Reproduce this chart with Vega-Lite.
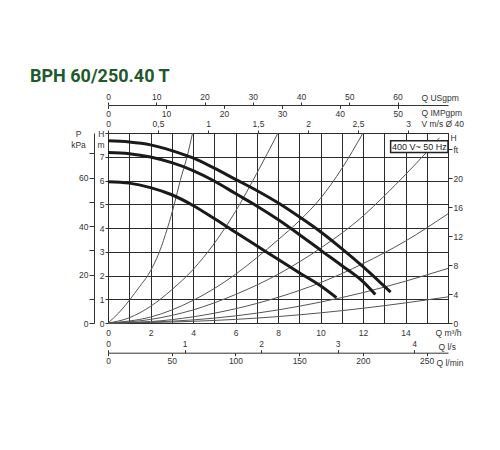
{
  "$schema": "https://vega.github.io/schema/vega-lite/v6.json",
  "width": 340,
  "height": 190,
  "autosize": "none",
  "padding": {"left": 108, "top": 133, "right": 52, "bottom": 127},
  "background": "white",
  "title": {
    "text": "BPH 60/250.40 T",
    "anchor": "start",
    "frame": "group",
    "dx": -78,
    "offset": 6,
    "font": "Roboto",
    "fontSize": 18,
    "fontWeight": "bold",
    "color": "#1e5a2b"
  },
  "config": {
    "font": "Liberation Sans",
    "view": {"stroke": "#2b2b2b", "strokeWidth": 1},
    "axis": {
      "labelFont": "Liberation Sans",
      "labelFontSize": 8.5,
      "labelColor": "#333",
      "titleFont": "Liberation Sans",
      "titleFontSize": 8.5,
      "titleFontWeight": "normal",
      "titleColor": "#333",
      "titleAngle": 0,
      "tickColor": "#333",
      "domainColor": "#333",
      "labelFlush": false,
      "labelOverlap": false,
      "labelBound": false,
      "grid": false
    }
  },
  "data": {"values": [{}]},
  "datasets": {
    "curves": [
      {"curve": "c1", "kind": "system", "q": 0, "h": 0},
      {"curve": "c1", "kind": "system", "q": 0.5, "h": 0.42},
      {"curve": "c1", "kind": "system", "q": 1, "h": 0.95},
      {"curve": "c1", "kind": "system", "q": 1.5, "h": 1.55},
      {"curve": "c1", "kind": "system", "q": 1.87, "h": 2},
      {"curve": "c1", "kind": "system", "q": 2.42, "h": 3},
      {"curve": "c1", "kind": "system", "q": 2.8, "h": 4},
      {"curve": "c1", "kind": "system", "q": 3.12, "h": 5},
      {"curve": "c1", "kind": "system", "q": 3.4, "h": 6},
      {"curve": "c1", "kind": "system", "q": 3.72, "h": 7},
      {"curve": "c1", "kind": "system", "q": 3.98, "h": 8},
      {"curve": "c2", "kind": "system", "q": 0, "h": 0},
      {"curve": "c2", "kind": "system", "q": 1, "h": 0.22},
      {"curve": "c2", "kind": "system", "q": 2, "h": 0.7},
      {"curve": "c2", "kind": "system", "q": 3, "h": 1.4},
      {"curve": "c2", "kind": "system", "q": 4, "h": 2.25},
      {"curve": "c2", "kind": "system", "q": 5, "h": 3.35},
      {"curve": "c2", "kind": "system", "q": 6, "h": 4.7},
      {"curve": "c2", "kind": "system", "q": 7, "h": 6.3},
      {"curve": "c2", "kind": "system", "q": 8, "h": 8},
      {"curve": "c3", "kind": "system", "q": 0, "h": 0},
      {"curve": "c3", "kind": "system", "q": 2, "h": 0.25},
      {"curve": "c3", "kind": "system", "q": 4, "h": 0.95},
      {"curve": "c3", "kind": "system", "q": 6, "h": 2.05},
      {"curve": "c3", "kind": "system", "q": 7, "h": 2.75},
      {"curve": "c3", "kind": "system", "q": 8, "h": 3.5},
      {"curve": "c3", "kind": "system", "q": 9, "h": 4.3},
      {"curve": "c3", "kind": "system", "q": 10, "h": 5.25},
      {"curve": "c3", "kind": "system", "q": 11, "h": 6.5},
      {"curve": "c3", "kind": "system", "q": 12, "h": 8},
      {"curve": "c4", "kind": "system", "q": 0, "h": 0},
      {"curve": "c4", "kind": "system", "q": 2, "h": 0.15},
      {"curve": "c4", "kind": "system", "q": 4, "h": 0.55},
      {"curve": "c4", "kind": "system", "q": 6, "h": 1.2},
      {"curve": "c4", "kind": "system", "q": 8, "h": 2.05},
      {"curve": "c4", "kind": "system", "q": 10, "h": 3.15},
      {"curve": "c4", "kind": "system", "q": 12, "h": 4.5},
      {"curve": "c4", "kind": "system", "q": 13, "h": 5.35},
      {"curve": "c4", "kind": "system", "q": 14, "h": 6.25},
      {"curve": "c4", "kind": "system", "q": 15, "h": 7.2},
      {"curve": "c4", "kind": "system", "q": 15.6, "h": 7.8},
      {"curve": "c5", "kind": "system", "q": 0, "h": 0},
      {"curve": "c5", "kind": "system", "q": 2, "h": 0.06},
      {"curve": "c5", "kind": "system", "q": 4, "h": 0.26},
      {"curve": "c5", "kind": "system", "q": 6, "h": 0.6},
      {"curve": "c5", "kind": "system", "q": 8, "h": 1.08},
      {"curve": "c5", "kind": "system", "q": 10, "h": 1.7},
      {"curve": "c5", "kind": "system", "q": 12, "h": 2.5},
      {"curve": "c5", "kind": "system", "q": 14, "h": 3.45},
      {"curve": "c5", "kind": "system", "q": 16, "h": 4.6},
      {"curve": "c6", "kind": "system", "q": 0, "h": 0},
      {"curve": "c6", "kind": "system", "q": 4, "h": 0.13},
      {"curve": "c6", "kind": "system", "q": 6, "h": 0.3},
      {"curve": "c6", "kind": "system", "q": 8, "h": 0.55},
      {"curve": "c6", "kind": "system", "q": 10, "h": 0.88},
      {"curve": "c6", "kind": "system", "q": 12, "h": 1.28},
      {"curve": "c6", "kind": "system", "q": 14, "h": 1.76},
      {"curve": "c6", "kind": "system", "q": 16, "h": 2.3},
      {"curve": "c7", "kind": "system", "q": 0, "h": 0},
      {"curve": "c7", "kind": "system", "q": 4, "h": 0.07},
      {"curve": "c7", "kind": "system", "q": 8, "h": 0.27},
      {"curve": "c7", "kind": "system", "q": 12, "h": 0.62},
      {"curve": "c7", "kind": "system", "q": 16, "h": 1.1},
      {"curve": "P1", "kind": "pump", "q": 0, "h": 7.67},
      {"curve": "P1", "kind": "pump", "q": 1, "h": 7.62},
      {"curve": "P1", "kind": "pump", "q": 2, "h": 7.5},
      {"curve": "P1", "kind": "pump", "q": 3, "h": 7.26},
      {"curve": "P1", "kind": "pump", "q": 4, "h": 6.95},
      {"curve": "P1", "kind": "pump", "q": 5, "h": 6.52},
      {"curve": "P1", "kind": "pump", "q": 6, "h": 6.05},
      {"curve": "P1", "kind": "pump", "q": 7, "h": 5.58},
      {"curve": "P1", "kind": "pump", "q": 8, "h": 5.06},
      {"curve": "P1", "kind": "pump", "q": 9, "h": 4.47},
      {"curve": "P1", "kind": "pump", "q": 10, "h": 3.84},
      {"curve": "P1", "kind": "pump", "q": 11, "h": 3.13},
      {"curve": "P1", "kind": "pump", "q": 12, "h": 2.37},
      {"curve": "P1", "kind": "pump", "q": 13, "h": 1.55},
      {"curve": "P1", "kind": "pump", "q": 13.3, "h": 1.3},
      {"curve": "P2", "kind": "pump", "q": 0, "h": 7.18},
      {"curve": "P2", "kind": "pump", "q": 1, "h": 7.13},
      {"curve": "P2", "kind": "pump", "q": 2, "h": 6.99},
      {"curve": "P2", "kind": "pump", "q": 3, "h": 6.75},
      {"curve": "P2", "kind": "pump", "q": 4, "h": 6.42},
      {"curve": "P2", "kind": "pump", "q": 5, "h": 5.98},
      {"curve": "P2", "kind": "pump", "q": 6, "h": 5.45},
      {"curve": "P2", "kind": "pump", "q": 7, "h": 4.93},
      {"curve": "P2", "kind": "pump", "q": 8, "h": 4.36},
      {"curve": "P2", "kind": "pump", "q": 9, "h": 3.73},
      {"curve": "P2", "kind": "pump", "q": 10, "h": 3.07},
      {"curve": "P2", "kind": "pump", "q": 11, "h": 2.42},
      {"curve": "P2", "kind": "pump", "q": 12, "h": 1.74},
      {"curve": "P2", "kind": "pump", "q": 12.58, "h": 1.2},
      {"curve": "P3", "kind": "pump", "q": 0, "h": 5.95},
      {"curve": "P3", "kind": "pump", "q": 1, "h": 5.89},
      {"curve": "P3", "kind": "pump", "q": 2, "h": 5.7},
      {"curve": "P3", "kind": "pump", "q": 3, "h": 5.4},
      {"curve": "P3", "kind": "pump", "q": 4, "h": 4.95},
      {"curve": "P3", "kind": "pump", "q": 5, "h": 4.4},
      {"curve": "P3", "kind": "pump", "q": 6, "h": 3.82},
      {"curve": "P3", "kind": "pump", "q": 7, "h": 3.25},
      {"curve": "P3", "kind": "pump", "q": 8, "h": 2.68},
      {"curve": "P3", "kind": "pump", "q": 9, "h": 2.12},
      {"curve": "P3", "kind": "pump", "q": 10, "h": 1.57},
      {"curve": "P3", "kind": "pump", "q": 10.75, "h": 1.07}
    ]
  },
  "layer": [
    {
      "data": {"name": "curves"},
      "transform": [{"filter": "datum.kind == 'system'"}],
      "mark": {"type": "line", "interpolate": "monotone", "color": "#555", "strokeWidth": 1},
      "encoding": {
        "x": {
          "field": "q",
          "type": "quantitative",
          "scale": {"domain": [0, 16], "nice": false},
          "axis": {
            "values": [0, 1, 2, 3, 4, 5, 6, 7, 8, 9, 10, 11, 12, 13, 14, 15, 16],
            "grid": true,
            "gridColor": "#2b2b2b",
            "gridWidth": 1,
            "ticks": false,
            "domain": false,
            "labelPadding": 5,
            "labelExpr": "datum.value == 16 ? 'Q m³/h' : (datum.value % 2 == 0 ? datum.label : '')",
            "title": null
          }
        },
        "y": {
          "field": "h",
          "type": "quantitative",
          "scale": {"domain": [0, 8], "nice": false},
          "axis": {
            "values": [0, 1, 2, 3, 4, 5, 6, 7, 8],
            "grid": true,
            "gridColor": "#2b2b2b",
            "gridWidth": 1,
            "tickSize": 3,
            "labelPadding": 1,
            "domain": false,
            "labelExpr": "datum.value == 8 ? '' : datum.label",
            "title": ["H", "m"],
            "titleAlign": "right",
            "titleBaseline": "top",
            "titleLineHeight": 11,
            "titleX": -4,
            "titleY": -4
          }
        },
        "detail": {"field": "curve"}
      }
    },
    {
      "data": {"name": "curves"},
      "transform": [{"filter": "datum.kind == 'pump'"}],
      "mark": {"type": "line", "interpolate": "monotone", "color": "#1a1a1a", "strokeWidth": 3},
      "encoding": {
        "x": {"field": "q", "type": "quantitative", "scale": {"domain": [0, 16], "nice": false}, "axis": null},
        "y": {"field": "h", "type": "quantitative", "scale": {"domain": [0, 8], "nice": false}, "axis": null},
        "detail": {"field": "curve"}
      }
    },
    {
      "mark": {"type": "rect", "fill": "white", "stroke": "#222", "strokeWidth": 1.5},
      "encoding": {
        "x": {"datum": 13.3, "type": "quantitative", "scale": {"domain": [0, 16], "nice": false}, "axis": null},
        "x2": {"datum": 16},
        "y": {"datum": 7.18, "type": "quantitative", "scale": {"domain": [0, 8], "nice": false}, "axis": null},
        "y2": {"datum": 7.67}
      }
    },
    {
      "mark": {"type": "text", "text": "400 V~ 50 Hz", "font": "Liberation Sans", "fontSize": 9, "color": "#222"},
      "encoding": {
        "x": {"datum": 14.65, "type": "quantitative", "scale": {"domain": [0, 16], "nice": false}, "axis": null},
        "y": {"datum": 7.42, "type": "quantitative", "scale": {"domain": [0, 8], "nice": false}, "axis": null}
      }
    },
    {
      "mark": {"type": "point", "opacity": 0},
      "encoding": {
        "x": {
          "datum": 0,
          "type": "quantitative",
          "scale": {"domain": [0, 70.44], "nice": false},
          "axis": {
            "orient": "top",
            "offset": 28,
            "values": [0, 10, 20, 30, 40, 50, 60],
            "tickSize": 3,
            "labelPadding": 1,
            "title": "Q USgpm",
            "titleAlign": "left",
            "titleBaseline": "middle",
            "titleX": 313,
            "titleY": -8
          }
        }
      }
    },
    {
      "mark": {"type": "point", "opacity": 0},
      "encoding": {
        "x": {
          "datum": 0,
          "type": "quantitative",
          "scale": {"domain": [0, 58.66], "nice": false},
          "axis": {
            "orient": "bottom",
            "offset": -217.6,
            "values": [0, 10, 20, 30, 40, 50],
            "tickSize": 3,
            "labelPadding": 1,
            "domain": false,
            "title": "Q IMPgpm",
            "titleAlign": "left",
            "titleBaseline": "middle",
            "titleX": 313,
            "titleY": 7.5
          }
        }
      }
    },
    {
      "mark": {"type": "point", "opacity": 0},
      "encoding": {
        "x": {
          "datum": 0,
          "type": "quantitative",
          "scale": {"domain": [0, 3.4], "nice": false},
          "axis": {
            "orient": "top",
            "offset": 0,
            "values": [0, 0.5, 1, 1.5, 2, 2.5, 3],
            "tickSize": 3,
            "labelPadding": 2,
            "domain": false,
            "labelExpr": "replace(format(datum.value, '~g'), '.', ',')",
            "title": "V m/s Ø 40",
            "titleAlign": "left",
            "titleBaseline": "middle",
            "titleX": 313,
            "titleY": -9.5
          }
        }
      }
    },
    {
      "mark": {"type": "point", "opacity": 0},
      "encoding": {
        "x": {
          "datum": 0,
          "type": "quantitative",
          "scale": {"domain": [0, 4.444], "nice": false},
          "axis": {
            "orient": "top",
            "offset": -219.7,
            "values": [0, 1, 2, 3, 4],
            "tickSize": 3,
            "labelPadding": 1,
            "title": "Q l/s",
            "titleAlign": "left",
            "titleBaseline": "middle",
            "titleX": 330,
            "titleY": -6.5
          }
        }
      }
    },
    {
      "mark": {"type": "point", "opacity": 0},
      "encoding": {
        "x": {
          "datum": 0,
          "type": "quantitative",
          "scale": {"domain": [0, 266.7], "nice": false},
          "axis": {
            "orient": "bottom",
            "offset": 29.7,
            "values": [0, 50, 100, 150, 200, 250],
            "tickSize": 3,
            "labelPadding": 1,
            "domain": false,
            "title": "Q l/min",
            "titleAlign": "left",
            "titleBaseline": "middle",
            "titleX": 328,
            "titleY": 9.5
          }
        }
      }
    },
    {
      "mark": {"type": "point", "opacity": 0},
      "encoding": {
        "y": {
          "datum": 0,
          "type": "quantitative",
          "scale": {"domain": [0, 78.45], "nice": false},
          "axis": {
            "orient": "left",
            "offset": 14,
            "values": [0, 10, 20, 30, 40, 50, 60, 70],
            "tickSize": 5,
            "labelPadding": 1,
            "labelExpr": "datum.value % 20 == 0 ? datum.label : ''",
            "title": ["P", "kPa"],
            "titleAlign": "center",
            "titleBaseline": "top",
            "titleLineHeight": 11,
            "titleX": -16,
            "titleY": -4
          }
        }
      }
    },
    {
      "mark": {"type": "point", "opacity": 0},
      "encoding": {
        "y": {
          "datum": 0,
          "type": "quantitative",
          "scale": {"domain": [0, 26.25], "nice": false},
          "axis": {
            "orient": "right",
            "offset": 0,
            "values": [0, 4, 8, 12, 16, 20, 24],
            "tickSize": 4,
            "labelPadding": 1,
            "domain": false,
            "labelExpr": "datum.value == 24 ? 'ft' : datum.label",
            "title": "H",
            "titleAlign": "left",
            "titleBaseline": "top",
            "titleX": 2,
            "titleY": 0
          }
        }
      }
    }
  ],
  "resolve": {
    "scale": {"x": "independent", "y": "independent"},
    "axis": {"x": "independent", "y": "independent"}
  }
}
